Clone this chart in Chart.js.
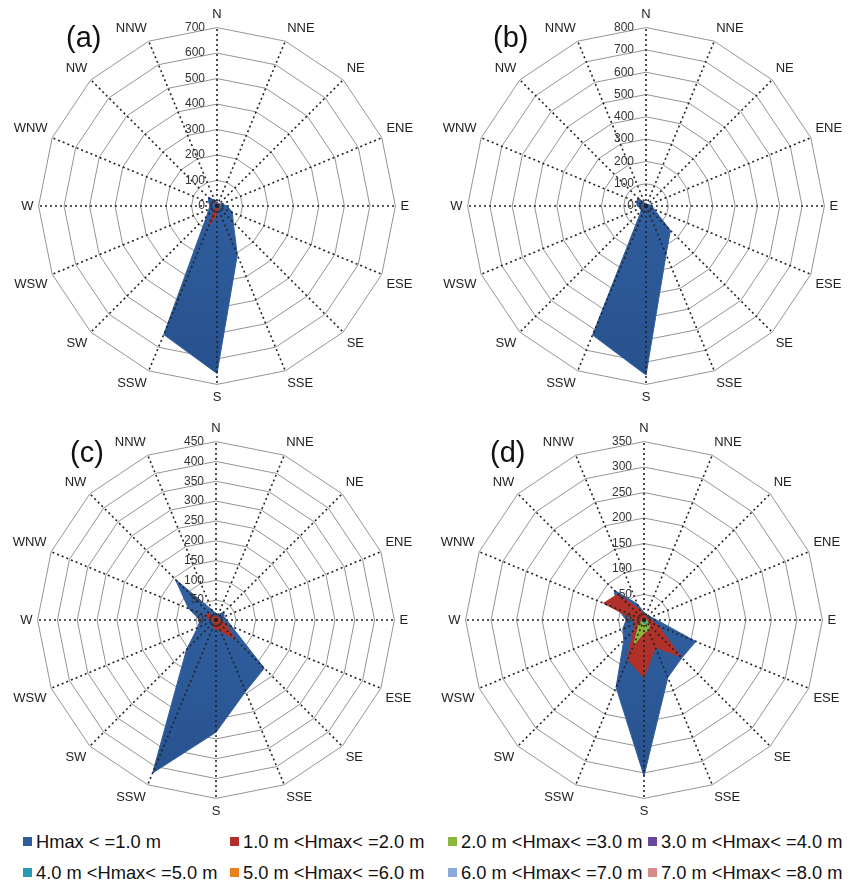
<!DOCTYPE html>
<html>
<head>
<meta charset="utf-8">
<script src="https://cdn.jsdelivr.net/npm/chart.js@4.4.1/dist/chart.umd.min.js"></script>
<style>
  body { margin: 0; background: #fff; }
  #lienzo { position: relative; width: 858px; height: 885px; overflow: hidden; font-family: "Liberation Sans", Arial, sans-serif; }
  .panel { position: absolute; }
  .etiqueta { position: absolute; font-size: 29px; color: #111; }
  .item { position: absolute; font-size: 18.3px; color: #111; white-space: nowrap; line-height: 20px; }
  .item span { display: inline-block; width: 9px; height: 9px; margin-right: 4px; vertical-align: 2px; }
</style>
</head>
<body>
<div id="lienzo">
  <canvas id="graficaA" class="panel" width="430" height="399" style="left:-1px;top:7px"></canvas>
  <canvas id="graficaB" class="panel" width="430" height="399" style="left:428px;top:7px"></canvas>
  <canvas id="graficaC" class="panel" width="430" height="399" style="left:-2px;top:421px"></canvas>
  <canvas id="graficaD" class="panel" width="430" height="399" style="left:426px;top:421px"></canvas>
  <div class="etiqueta" style="left:66px;top:21px">(a)</div>
  <div class="etiqueta" style="left:493px;top:21px">(b)</div>
  <div class="etiqueta" style="left:70px;top:436px">(c)</div>
  <div class="etiqueta" style="left:490px;top:436px">(d)</div>
  <div id="leyenda"></div>
</div>
<script>
// 🧭 Direcciones (sentido horario desde el norte)
const direcciones = ['N', 'NNE', 'NE', 'ENE', 'E', 'ESE', 'SE', 'SSE', 'S', 'SSW', 'SW', 'WSW', 'W', 'WNW', 'NW', 'NNW'];

// 🏷️ Clases de altura de ola
const clases = [
  'Hmax < =1.0 m', '1.0 m <Hmax< =2.0 m', '2.0 m <Hmax< =3.0 m', '3.0 m <Hmax< =4.0 m',
  '4.0 m <Hmax< =5.0 m', '5.0 m <Hmax< =6.0 m', '6.0 m <Hmax< =7.0 m', '7.0 m <Hmax< =8.0 m'
];
const colores = ['#2e5c9c', '#b0302a', '#8ab83c', '#66479a', '#2a9bb4', '#e8801e', '#8eaadb', '#d98a8a'];

// 📏 Ejes de cada panel
const ejeMax = [700, 800, 450, 350];
const ejePaso = [100, 100, 50, 50];

// 📊 Panel (a)
const a_h1 = [18, 12, 12, 20, 40, 65, 90, 208, 657, 546, 58, 35, 28, 35, 48, 25];
const a_h2 = [12, 5, 5, 5, 8, 8, 10, 12, 30, 85, 8, 5, 5, 8, 10, 15];

// 📊 Panel (b)
const b_h1 = [12, 10, 10, 15, 27, 40, 155, 235, 758, 626, 30, 25, 40, 45, 52, 15];
const b_h2 = [4, 4, 4, 4, 5, 6, 8, 8, 10, 8, 5, 4, 4, 4, 4, 4];

// 📊 Panel (c)
const c_h1 = [17, 15, 28, 22, 27, 43, 172, 195, 283, 418, 105, 50, 40, 75, 145, 28];
const c_h2 = [8, 8, 10, 8, 10, 25, 70, 30, 22, 20, 8, 8, 15, 30, 25, 8];
const c_h3 = [3, 3, 3, 3, 3, 4, 5, 5, 5, 5, 4, 3, 3, 3, 3, 3];

// 📊 Panel (d)
const d_h1 = [15, 12, 12, 15, 25, 110, 105, 122, 306, 143, 56, 45, 35, 55, 83, 34];
const d_h2 = [10, 8, 8, 10, 15, 30, 102, 58, 113, 84, 30, 20, 18, 86, 72, 22];
const d_h3 = [3, 3, 3, 3, 5, 8, 15, 22, 25, 53, 15, 5, 3, 3, 3, 3];
const d_h4 = [2, 2, 2, 2, 2, 2, 3, 3, 3, 3, 2, 2, 2, 2, 2, 2];
const d_h5 = [3, 3, 3, 3, 4, 4, 6, 8, 6, 5, 3, 3, 3, 3, 3, 3];
const d_h6 = [2, 2, 2, 2, 2, 2, 2, 3, 3, 3, 2, 2, 2, 2, 2, 2];

// 🔧 Radios punteados encima de los datos + etiquetas de los anillos
const radiosPunteados = {
  id: 'radiosPunteados',
  afterDatasetsDraw(chart) {
    const r = chart.scales.r;
    const ctx = chart.ctx;
    ctx.save();
    ctx.setLineDash([2, 3]);
    ctx.lineWidth = 1.6;
    ctx.strokeStyle = '#222';
    chart.data.labels.forEach((_, i) => {
      const p = r.getPointPosition(i, r.drawingArea);
      ctx.beginPath();
      ctx.moveTo(r.xCenter, r.yCenter);
      ctx.lineTo(p.x, p.y);
      ctx.stroke();
    });
    ctx.setLineDash([]);
    ctx.font = '12px "Liberation Sans", Arial, sans-serif';
    ctx.fillStyle = '#333';
    ctx.textAlign = 'right';
    ctx.textBaseline = 'middle';
    r.ticks.forEach(t => {
      const d = r.getDistanceFromCenterForValue(t.value);
      ctx.fillText(String(t.value), r.xCenter - 12, r.yCenter - d);
    });
    ctx.restore();
  }
};

function rellenoAzul(context) {
  const area = context.chart.chartArea;
  if (!area) return colores[0];
  const g = context.chart.ctx.createLinearGradient(0, area.top, 0, area.bottom);
  g.addColorStop(0, '#3a6cb2');
  g.addColorStop(1, '#254f8a');
  return g;
}

function crearRosa(id, series, indicePanel) {
  const datasets = series.map((valores, i) => ({
    label: clases[i],
    data: valores,
    backgroundColor: i === 0 ? rellenoAzul : colores[i],
    borderColor: colores[i],
    borderWidth: 1,
    pointRadius: 0,
    fill: true,
    order: clases.length - i
  }));
  new Chart(document.getElementById(id), {
    type: 'radar',
    data: { labels: direcciones, datasets },
    options: {
      responsive: false,
      animation: false,
      devicePixelRatio: 1,
      plugins: { legend: { display: false }, tooltip: { enabled: false } },
      scales: {
        r: {
          min: 0,
          max: ejeMax[indicePanel],
          ticks: { stepSize: ejePaso[indicePanel], display: false },
          grid: { color: '#949494', lineWidth: 1 },
          angleLines: { display: false },
          pointLabels: { font: { size: 13, family: '"Liberation Sans", Arial, sans-serif' }, color: '#222', padding: 5 }
        }
      }
    },
    plugins: [radiosPunteados]
  });
}

crearRosa('graficaA', [a_h1, a_h2], 0);
crearRosa('graficaB', [b_h1, b_h2], 1);
crearRosa('graficaC', [c_h1, c_h2, c_h3], 2);
crearRosa('graficaD', [d_h1, d_h2, d_h3, d_h4, d_h5, d_h6], 3);

// 🗂️ Leyenda común
const columnas = [23, 230, 448, 648];
const filas = [832, 863];
const leyenda = document.getElementById('leyenda');
clases.forEach((nombre, i) => {
  const div = document.createElement('div');
  div.className = 'item';
  div.style.left = columnas[i % 4] + 'px';
  div.style.top = filas[Math.floor(i / 4)] + 'px';
  const cuadro = document.createElement('span');
  cuadro.style.background = colores[i];
  div.appendChild(cuadro);
  div.appendChild(document.createTextNode(nombre));
  leyenda.appendChild(div);
});
</script>
</body>
</html>
